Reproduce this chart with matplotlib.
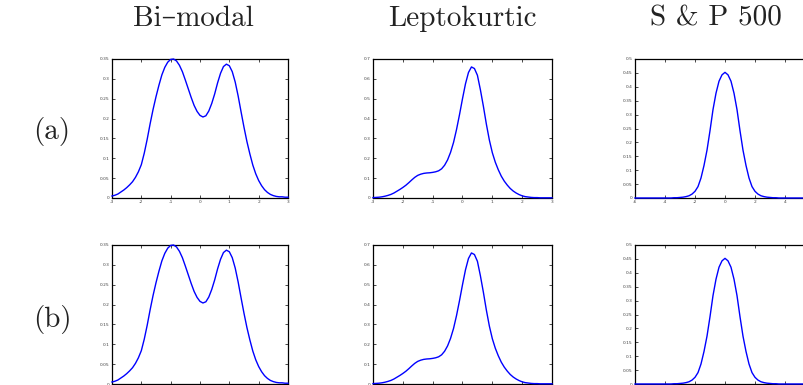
import matplotlib
matplotlib.use('Agg')
import matplotlib.pyplot as plt

# Densidade bimodal (passo 0.1 de -3 a 3)
x_bimodal = [round(-3 + 0.1 * i, 1) for i in range(61)]
y_bimodal = [0.005, 0.007, 0.010, 0.015, 0.020, 0.026, 0.033, 0.041, 0.052, 0.066,
             0.084, 0.113, 0.148, 0.187, 0.223, 0.255, 0.284, 0.310, 0.329, 0.342,
             0.349, 0.350, 0.345, 0.334, 0.318, 0.297, 0.275, 0.253, 0.233, 0.218,
             0.208, 0.204, 0.207, 0.219, 0.238, 0.262, 0.290, 0.314, 0.331, 0.337,
             0.333, 0.318, 0.292, 0.257, 0.217, 0.178, 0.142, 0.111, 0.083, 0.061,
             0.044, 0.031, 0.021, 0.014, 0.009, 0.006, 0.004, 0.003, 0.003, 0.002,
             0.002]

# Densidade leptocúrtica (passo 0.1 de -3 a 3)
x_lepto = [round(-3 + 0.1 * i, 1) for i in range(61)]
y_lepto = [0.002, 0.003, 0.004, 0.006, 0.009, 0.013, 0.018, 0.025, 0.034, 0.043,
           0.053, 0.064, 0.077, 0.091, 0.104, 0.114, 0.120, 0.124, 0.126, 0.127,
           0.129, 0.132, 0.137, 0.147, 0.165, 0.192, 0.230, 0.280, 0.345, 0.420,
           0.500, 0.575, 0.632, 0.660, 0.652, 0.618, 0.545, 0.462, 0.372, 0.292,
           0.228, 0.180, 0.142, 0.110, 0.085, 0.065, 0.048, 0.035, 0.025, 0.017,
           0.011, 0.007, 0.005, 0.003, 0.002, 0.002, 0.001, 0.001, 0.001, 0.001,
           0.001]

# Densidade S&P 500 (passo 0.2 de -6 a 6)
x_sp = [round(-6 + 0.2 * i, 1) for i in range(61)]
y_sp = [0, 0, 0, 0, 0, 0, 0, 0, 0, 0, 0, 0, 0, 0.001, 0.001,
        0.002, 0.003, 0.005, 0.008, 0.014, 0.024, 0.041, 0.072, 0.117, 0.172,
        0.242, 0.318, 0.377, 0.420, 0.443, 0.452, 0.443, 0.420, 0.377, 0.318,
        0.242, 0.172, 0.117, 0.072, 0.041, 0.024, 0.014, 0.008, 0.005, 0.003,
        0.002, 0.001, 0.001, 0, 0, 0, 0, 0, 0, 0, 0, 0, 0, 0, 0, 0]

titulos = ['Bi–modal', 'Leptokurtic', 'S & P 500']
linhas = ['(a)', '(b)']

xticks_3 = [-3, -2, -1, 0, 1, 2, 3]
xticks_6 = [-6, -4, -2, 0, 2, 4, 6]
yticks_bi = [0, 0.05, 0.1, 0.15, 0.2, 0.25, 0.3, 0.35]
yticks_lep = [0, 0.1, 0.2, 0.3, 0.4, 0.5, 0.6, 0.7]
yticks_sp = [0, 0.05, 0.1, 0.15, 0.2, 0.25, 0.3, 0.35, 0.4, 0.45, 0.5]

paineis = [
    (x_bimodal, y_bimodal, (-3, 3), (0, 0.35), xticks_3, yticks_bi),
    (x_lepto, y_lepto, (-3, 3), (0, 0.7), xticks_3, yticks_lep),
    (x_sp, y_sp, (-6, 6), (0, 0.5), xticks_6, yticks_sp),
]

W, H = 804, 385
fig = plt.figure(figsize=(W / 100, H / 100), dpi=100)

# posições das colunas e linhas em pixels
colunas_px = [(112, 288), (373, 552), (635, 815)]
linhas_px = [(59, 198), (245, 384)]

for r, (top, bot) in enumerate(linhas_px):
    for c, (esq, dir_) in enumerate(colunas_px):
        xs, ys, xlim, ylim, xt, yt = paineis[c]
        ax = fig.add_axes([esq / W, 1 - bot / H, (dir_ - esq) / W, (bot - top) / H])
        ax.plot(xs, ys, color='#0000ff', lw=1.0, clip_on=False, zorder=3)
        ax.set_xlim(*xlim)
        ax.set_ylim(*ylim)
        ax.set_xticks(xt)
        ax.set_yticks(yt)
        # a linha de baixo e o último rótulo da 3a coluna ficam fora da imagem
        rot_x = ['%g' % v for v in xt]
        if c == 2:
            rot_x[-1] = ''
        if r == 1:
            rot_x = [''] * len(xt)
        ax.set_xticklabels(rot_x)
        ax.set_yticklabels(['%g' % v for v in yt])
        ax.tick_params(direction='in', length=2, width=0.5, labelsize=3.2,
                       labelcolor='#444444', top=True, right=True, pad=1.5)
        for s in ax.spines.values():
            s.set_linewidth(0.9)

fonte = ['cmr10', 'DejaVu Serif']
centros_titulo = [193, 462, 716]
for t, cx in zip(titulos, centros_titulo):
    fig.text(cx / W, 1 - 26 / H, t, ha='center', va='baseline',
             fontsize=21, family=fonte, color='#222222')

for t, cy in zip(linhas, [131, 320]):
    fig.text(52 / W, 1 - cy / H, t, ha='center', va='center',
             fontsize=21, family=fonte, color='#222222')

fig.savefig('out.png', dpi=100)
